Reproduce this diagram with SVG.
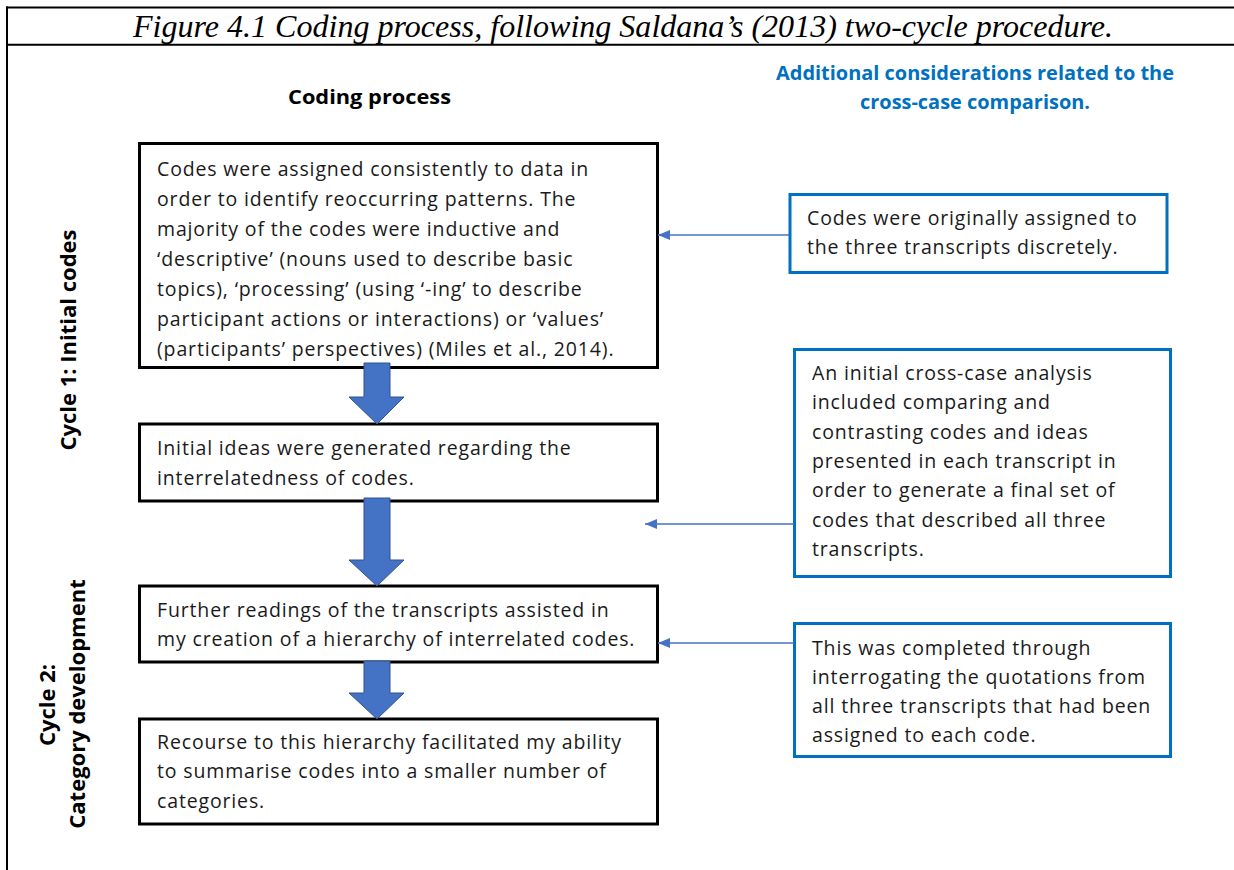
<svg xmlns="http://www.w3.org/2000/svg" width="1234" height="870" viewBox="0 0 1234 870">
  <defs>
    <style>
      .frame { stroke: #000; stroke-width: 2; fill: none; }
      .step { fill: #fff; stroke: #000; stroke-width: 3; }
      .note { fill: #fff; stroke: #0070C0; stroke-width: 3; }
      .flow { fill: #4472C4; stroke: #2F528F; stroke-width: 1; }
      .link { stroke: #4472C4; stroke-width: 1.5; fill: none; marker-end: url(#head); }
      .title { font-family: "Liberation Serif", "Times New Roman", serif; font-style: italic; font-size: 32px; fill: #000; }
      .body { font-family: "Open Sans", "Liberation Sans", sans-serif; font-size: 19.5px; letter-spacing: 0.85px; fill: #1a1a1a; }
      .head { font-family: "Open Sans", "Liberation Sans", sans-serif; font-weight: bold; font-size: 20px; }
      .cycle { font-family: "Open Sans", "Liberation Sans", sans-serif; font-weight: bold; font-size: 22px; fill: #000; text-anchor: middle; }
    </style>
    <marker id="head" markerWidth="12" markerHeight="10" refX="12" refY="5" orient="auto" markerUnits="userSpaceOnUse">
      <path d="M0,0 L12,5 L0,10 Z" fill="#4472C4"/>
    </marker>
  </defs>

  <rect width="1234" height="870" fill="#fff"/>

  <!-- table frame -->
  <g id="frame">
    <line class="frame" x1="6" y1="7.5" x2="1234" y2="7.5"/>
    <line class="frame" x1="7" y1="6.5" x2="7" y2="870"/>
    <line class="frame" x1="6" y1="44.7" x2="1234" y2="44.7"/>
    <text class="title" x="133" y="37" textLength="980" lengthAdjust="spacingAndGlyphs">Figure 4.1 Coding process, following Saldana’s (2013) two-cycle procedure.</text>
  </g>

  <!-- column headings -->
  <g id="headings">
    <text class="head" x="288" y="104" fill="#000" textLength="163" lengthAdjust="spacingAndGlyphs">Coding process</text>
    <text class="head" x="776" y="80" fill="#0070C0" textLength="398" lengthAdjust="spacingAndGlyphs">Additional considerations related to the</text>
    <text class="head" x="860" y="109" fill="#0070C0" textLength="230" lengthAdjust="spacingAndGlyphs">cross-case comparison.</text>
  </g>

  <!-- cycle labels -->
  <g id="cycle-labels">
    <text class="cycle" transform="translate(76,340) rotate(-90)">Cycle 1: Initial codes</text>
    <text class="cycle" transform="translate(55,705) rotate(-90)">Cycle 2:</text>
    <text class="cycle" transform="translate(85,704) rotate(-90)">Category development</text>
  </g>

  <!-- coding process steps -->
  <g id="step-initial-codes">
    <rect class="step" x="139.5" y="143.5" width="518" height="224"/>
    <text class="body">
      <tspan x="157" y="176">Codes were assigned consistently to data in</tspan>
      <tspan x="157" y="206">order to identify reoccurring patterns. The</tspan>
      <tspan x="157" y="236">majority of the codes were inductive and</tspan>
      <tspan x="157" y="266">‘descriptive’ (nouns used to describe basic</tspan>
      <tspan x="157" y="296">topics), ‘processing’ (using ‘-ing’ to describe</tspan>
      <tspan x="157" y="326">participant actions or interactions) or ‘values’</tspan>
      <tspan x="157" y="356">(participants’ perspectives) (Miles et al., 2014).</tspan>
    </text>
  </g>

  <g id="step-initial-ideas">
    <rect class="step" x="139.5" y="424" width="518" height="77"/>
    <text class="body">
      <tspan x="157" y="455">Initial ideas were generated regarding the</tspan>
      <tspan x="157" y="485">interrelatedness of codes.</tspan>
    </text>
  </g>

  <g id="step-further-readings">
    <rect class="step" x="139.5" y="586" width="518" height="76"/>
    <text class="body">
      <tspan x="157" y="617">Further readings of the transcripts assisted in</tspan>
      <tspan x="157" y="646">my creation of a hierarchy of interrelated codes.</tspan>
    </text>
  </g>

  <g id="step-recourse">
    <rect class="step" x="139.5" y="719" width="518" height="105"/>
    <text class="body">
      <tspan x="157" y="749">Recourse to this hierarchy facilitated my ability</tspan>
      <tspan x="157" y="778">to summarise codes into a smaller number of</tspan>
      <tspan x="157" y="808">categories.</tspan>
    </text>
  </g>

  <!-- cross-case considerations -->
  <g id="note-discrete">
    <rect class="note" x="790" y="194.5" width="377" height="78"/>
    <text class="body">
      <tspan x="807" y="225">Codes were originally assigned to</tspan>
      <tspan x="807" y="254">the three transcripts discretely.</tspan>
    </text>
  </g>

  <g id="note-cross-case">
    <rect class="note" x="794.5" y="349.5" width="376" height="227"/>
    <text class="body">
      <tspan x="812" y="380">An initial cross-case analysis</tspan>
      <tspan x="812" y="409">included comparing and</tspan>
      <tspan x="812" y="439">contrasting codes and ideas</tspan>
      <tspan x="812" y="468">presented in each transcript in</tspan>
      <tspan x="812" y="497">order to generate a final set of</tspan>
      <tspan x="812" y="527">codes that described all three</tspan>
      <tspan x="812" y="556">transcripts.</tspan>
    </text>
  </g>

  <g id="note-interrogating">
    <rect class="note" x="794.5" y="623.5" width="376" height="133"/>
    <text class="body">
      <tspan x="812" y="655">This was completed through</tspan>
      <tspan x="812" y="684">interrogating the quotations from</tspan>
      <tspan x="812" y="713">all three transcripts that had been</tspan>
      <tspan x="812" y="742">assigned to each code.</tspan>
    </text>
  </g>

  <!-- connectors -->
  <g id="connectors">
    <path class="flow" d="M364,363 H390 V397 H404 L377,424 L349,397 H364 Z"/>
    <path class="flow" d="M364,498 H390 V560 H404 L377,586 L349,560 H364 Z"/>
    <path class="flow" d="M364,661 H390 V693 H404 L377,719 L349,693 H364 Z"/>
    <line class="link" x1="789" y1="235" x2="658" y2="235"/>
    <line class="link" x1="794" y1="524" x2="645" y2="524"/>
    <line class="link" x1="794" y1="643" x2="658" y2="643"/>
  </g>
</svg>
